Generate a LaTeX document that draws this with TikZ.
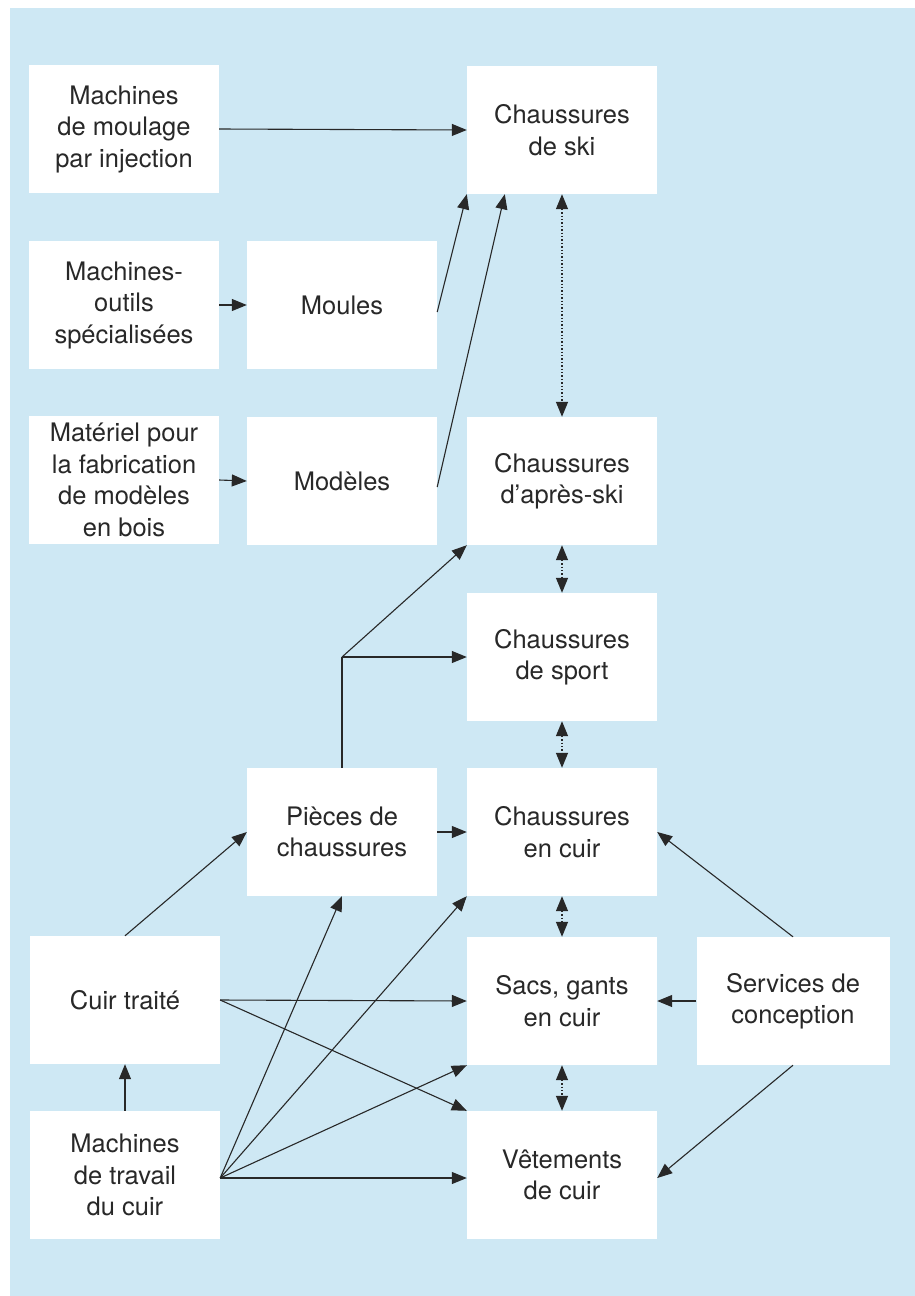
\documentclass[tikz,border=0pt]{standalone}
\usepackage{fontspec}
\setmainfont{TeX Gyre Heros}
\usetikzlibrary{arrows.meta}
\definecolor{panelblue}{RGB}{206,232,244}
\definecolor{inkgray}{RGB}{40,40,40}
\begin{document}
\begin{tikzpicture}[x=1pt,y=-1pt,
  box/.style={fill=white,minimum width=190pt,minimum height=128pt,align=center,
    inner sep=0pt,text=inkgray,font=\fontsize{25.5}{31.5}\selectfont},
  link/.style={draw=inkgray,line width=1.1pt,-{Triangle[length=15pt,width=12pt]}},
  both/.style={draw=inkgray,line width=1.4pt,dotted,
    {Triangle[length=15pt,width=12pt]}-{Triangle[length=15pt,width=12pt]}}]
\useasboundingbox (0,0) rectangle (915,1296);
\fill[panelblue] (10,8) rectangle (915,1296);
% left column
\node[box] (moulage) at (124,129) {Machines\\de moulage\\par injection};
\node[box] (outils) at (124,305) {Machines-\\outils\\spécialisées};
\node[box] (materiel) at (124,480) {Matériel pour\\la fabrication\\de modèles\\en bois};
\node[box] (cuir) at (125,1000) {Cuir traité};
\node[box] (travail) at (125,1175) {Machines\\de travail\\du cuir};
% second column
\node[box] (moules) at (342,305) {Moules};
\node[box] (modeles) at (342,481) {Modèles};
\node[box] (pieces) at (342,832) {Pièces de\\chaussures};
% products
\node[box] (ski) at (562,130) {Chaussures\\de ski};
\node[box] (apres) at (562,481) {Chaussures\\d'après-ski};
\node[box] (sport) at (562,657) {Chaussures\\de sport};
\node[box] (encuir) at (562,832) {Chaussures\\en cuir};
\node[box] (sacs) at (562,1001) {Sacs, gants\\en cuir};
\node[box] (vetements) at (562,1175) {Vêtements\\de cuir};
\node[box,minimum width=193pt] (services) at (793,1001) {Services de\\conception};
\coordinate (fork) at (342,657);
% links
\draw[link] (moulage.east) -- (ski.west);
\draw[link] (outils.east) -- (moules.west);
\draw[link] (materiel.east) -- (modeles.west);
\draw[link] ([yshift=-7pt]moules.east) -- (ski.south west);
\draw[link] ([yshift=-6pt]modeles.east) -- ([xshift=38pt]ski.south west);
\draw[both] (ski.south) -- (apres.north);
\draw[both] (apres.south) -- (sport.north);
\draw[both] (sport.south) -- (encuir.north);
\draw[both] (encuir.south) -- (sacs.north);
\draw[both] (sacs.south) -- (vetements.north);
\draw[draw=inkgray,line width=1.1pt] (pieces.north) -- (fork);
\draw[link] (fork) -- (sport.west);
\draw[link] (fork) -- (apres.south west);
\draw[link] (pieces.east) -- (encuir.west);
\draw[link] (cuir.north) -- (pieces.west);
\draw[link] (travail.north) -- (cuir.south);
\draw[link] (cuir.east) -- (sacs.west);
\draw[link] (cuir.east) -- (vetements.north west);
\draw[link] ([yshift=-3pt]travail.east) -- ([yshift=-3pt]vetements.west);
\draw[link] ([yshift=-3pt]travail.east) -- (sacs.south west);
\draw[link] ([yshift=-3pt]travail.east) -- (encuir.south west);
\draw[link] ([yshift=-3pt]travail.east) -- (pieces.south);
\draw[link] (services.north) -- (encuir.east);
\draw[link] (services.west) -- (sacs.east);
\draw[link] (services.south) -- ([yshift=-3pt]vetements.east);
\end{tikzpicture}
\end{document}
